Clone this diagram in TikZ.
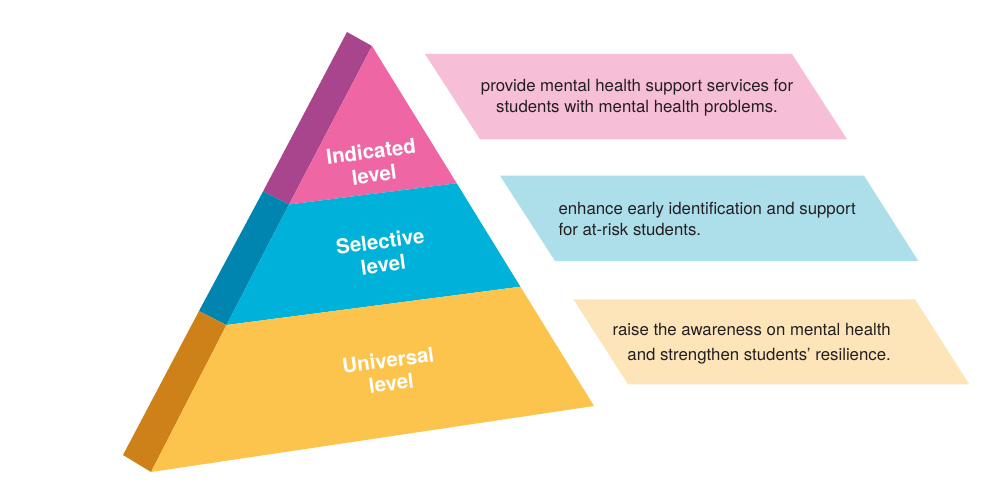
\documentclass[tikz,border=0pt]{standalone}
\usepackage{fontspec}
\setmainfont{TeX Gyre Heros}
\usepackage{tikz}

\definecolor{sidepurple}{HTML}{A8458C}
\definecolor{frontpink}{HTML}{EE67A4}
\definecolor{sideblue}{HTML}{0085B0}
\definecolor{frontblue}{HTML}{00B2D9}
\definecolor{sideorange}{HTML}{CF8119}
\definecolor{frontyellow}{HTML}{FCC44D}
\definecolor{boxpink}{HTML}{F7BED8}
\definecolor{boxblue}{HTML}{ADDFEB}
\definecolor{boxyellow}{HTML}{FDE5B9}
\definecolor{textgray}{HTML}{231F20}

\tikzset{
  levellabel/.style={text=white, font=\bfseries\fontsize{20.5}{23.5}\selectfont,
    align=center, rotate=7.5, inner sep=0pt},
  boxtext/.style={text=textgray, font=\fontsize{16.8}{21.5}\selectfont, inner sep=0pt}
}

\begin{document}
\begin{tikzpicture}[x=1pt,y=-1pt]
    \useasboundingbox (0,0) rectangle (1000,500);

    % Corners of the pyramid
    \coordinate (apex) at (372,46);
    \coordinate (apexback) at (347,32);
    \coordinate (pbl) at (289,204.5);
    \coordinate (pbr) at (456.7,183.3);
    \coordinate (pbback) at (263,191.5);
    \coordinate (byl) at (226.5,325);
    \coordinate (byr) at (520.4,286.7);
    \coordinate (byback) at (199,311);
    \coordinate (botl) at (151,472);
    \coordinate (botr) at (594,406);
    \coordinate (botback) at (123,455);

    % Side faces
    \fill[sidepurple] (apexback) -- (apex) -- (pbl) -- (pbback) -- cycle;
    \fill[sideblue] (pbback) -- (pbl) -- (byl) -- (byback) -- cycle;
    \fill[sideorange] (byback) -- (byl) -- (botl) -- (botback) -- cycle;

    % Front faces
    \fill[frontpink] (apex) -- (pbr) -- (pbl) -- cycle;
    \fill[frontblue] (pbl) -- (pbr) -- (byr) -- (byl) -- cycle;
    \fill[frontyellow] (byl) -- (byr) -- (botr) -- (botl) -- cycle;

    % Level names
    \node[levellabel] (indicated) at (372.5,163) {Indicated\\level};
    \node[levellabel] (selective) at (381.7,253) {Selective\\level};
    \node[levellabel] (universal) at (389.7,371.5) {Universal\\level};

    % Description boxes
    \fill[boxpink] (425,54) -- (792,54) -- (847,139.3) -- (480,139.3) -- cycle;
    \fill[boxblue] (500,175.7) -- (864,175.7) -- (918.3,261) -- (555,261) -- cycle;
    \fill[boxyellow] (573.3,299.3) -- (915,299.3) -- (969.3,384.3) -- (628,384.3) -- cycle;

    \node[boxtext, align=center] (indicatedtext) at (637,97.5)
        {provide mental health support services for\\students with mental health problems.};
    \node[boxtext, align=left, anchor=west] (selectivetext) at (558.3,219)
        {enhance early identification and support\\for at-risk students.};
    \node[boxtext, align=right, anchor=east, font=\fontsize{16.8}{25}\selectfont] (universaltext) at (891,343.5)
        {raise the awareness on mental health\\and strengthen students' resilience.};
\end{tikzpicture}
\end{document}
